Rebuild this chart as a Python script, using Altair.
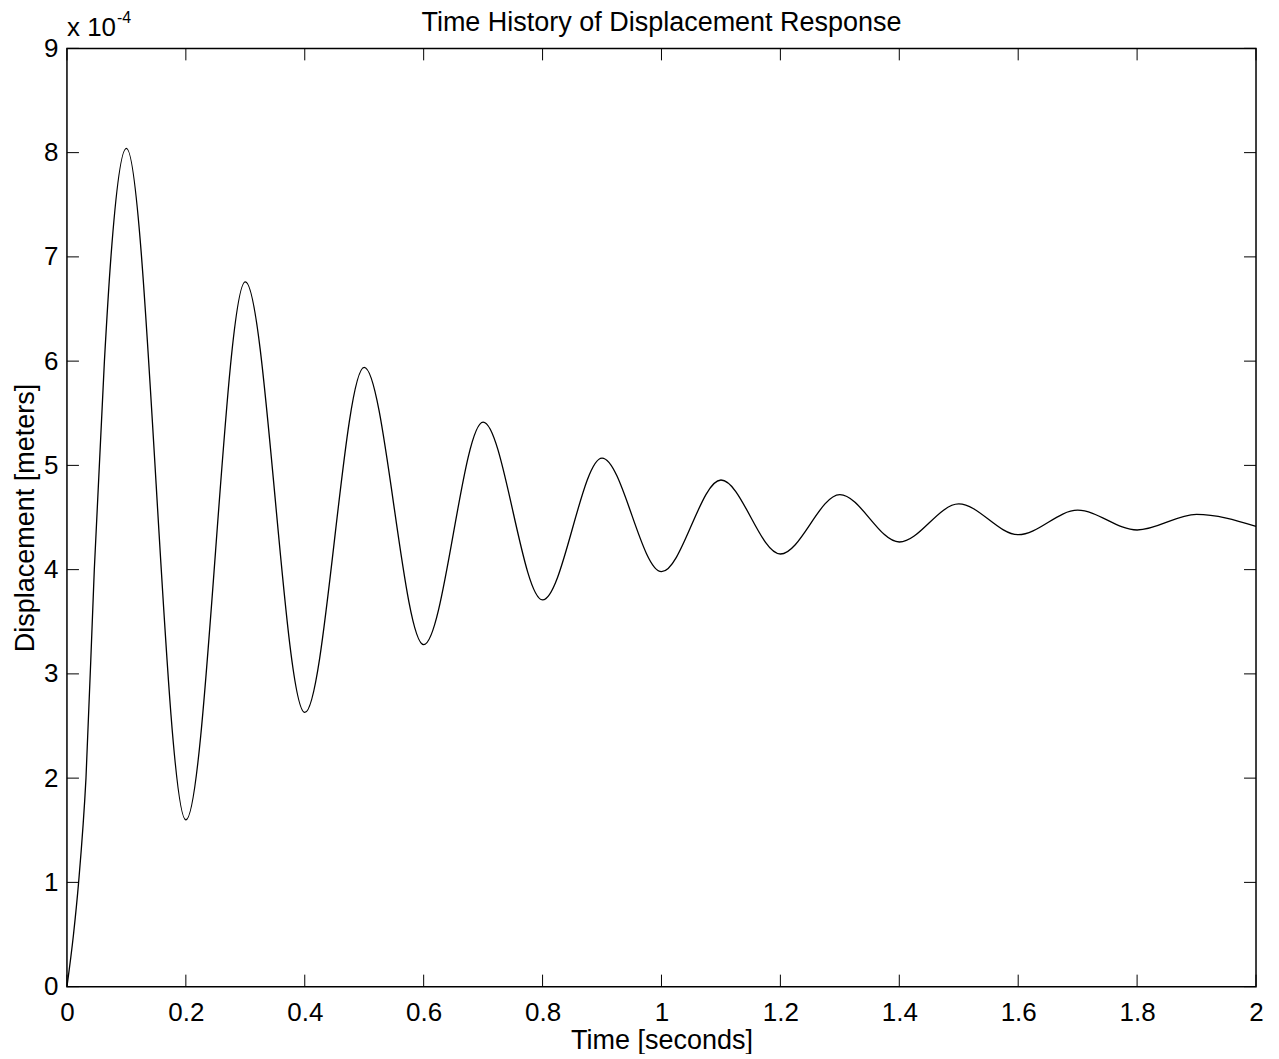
import altair as alt
import pandas as pd

# Values
time_s = [0.0, 0.011, 0.0196, 0.032, 0.046, 0.063, 0.074, 0.1,
          0.2, 0.3, 0.4, 0.5, 0.6, 0.7, 0.8, 0.9, 1.0, 1.1, 1.2,
          1.3, 1.4, 1.5, 1.6, 1.7, 1.8, 1.9, 2.0]
disp_e4 = [0.0, 0.5, 1.0, 2.0, 4.0, 6.0, 7.0, 8.04,
           1.60, 6.76, 2.63, 5.94, 3.28, 5.415, 3.71, 5.07, 3.98, 4.86, 4.15,
           4.72, 4.265, 4.63, 4.335, 4.57, 4.38, 4.53, 4.415]
disp_m = [v / 1e4 for v in disp_e4]

x_ticks = [0, 0.2, 0.4, 0.6, 0.8, 1, 1.2, 1.4, 1.6, 1.8, 2]
y_ticks_e4 = [0, 1, 2, 3, 4, 5, 6, 7, 8, 9]
y_ticks = [v / 1e4 for v in y_ticks_e4]

title_text = ["Time History of Displacement Response"]
multiplier_text = ["x 10"]
exponent_text = ["-4"]

W, H = 1190, 939
FONT = "Liberation Sans"
FS = 26      # tick labels
FT = 27      # titles
TL = 12      # tick length (px)

df = pd.DataFrame({"t": time_s, "d": disp_m})
xt = pd.DataFrame({"t": x_ticks})
yt = pd.DataFrame({"d": y_ticks})

xscale = alt.Scale(domain=[0, 2], nice=False, zero=False)
yscale = alt.Scale(domain=[0, 9 / 1e4], nice=False, zero=False)

line = alt.Chart(df).mark_line(color="black", strokeWidth=1.3, interpolate="monotone").encode(
    x=alt.X("t:Q", scale=xscale, title="Time [seconds]",
            axis=alt.Axis(values=x_ticks, ticks=False, tickSize=0, domain=False, grid=False,
                          labelPadding=13, labelFlush=False, labelOverlap=False, format="~g",
                          titleY=62, titleBaseline="alphabetic")),
    y=alt.Y("d:Q", scale=yscale, title="Displacement [meters]",
            axis=alt.Axis(values=y_ticks, ticks=False, tickSize=0, domain=False, grid=False,
                          labelPadding=9, labelFlush=False, labelOverlap=False,
                          labelExpr="'' + round(datum.value * 10000)",
                          titleX=-33, titleY=H / 2, titleAngle=270,
                          titleBaseline="alphabetic", titleAlign="center")),
)

tick_style = dict(color="black", strokeWidth=1)
bottom_ticks = alt.Chart(xt).mark_rule(**tick_style).encode(
    x=alt.X("t:Q", scale=xscale), y=alt.value(H), y2=alt.value(H - TL))
top_ticks = alt.Chart(xt).mark_rule(**tick_style).encode(
    x=alt.X("t:Q", scale=xscale), y=alt.value(0), y2=alt.value(TL))
left_ticks = alt.Chart(yt).mark_rule(**tick_style).encode(
    y=alt.Y("d:Q", scale=yscale), x=alt.value(0), x2=alt.value(TL))
right_ticks = alt.Chart(yt).mark_rule(**tick_style).encode(
    y=alt.Y("d:Q", scale=yscale), x=alt.value(W - TL), x2=alt.value(W))

title = alt.Chart(pd.DataFrame({"s": title_text})).mark_text(
    align="center", baseline="alphabetic", font=FONT, fontSize=FT, color="black").encode(
    text="s:N", x=alt.value(W / 2), y=alt.value(-17))
mult = alt.Chart(pd.DataFrame({"s": multiplier_text})).mark_text(
    align="left", baseline="alphabetic", font=FONT, fontSize=FS, color="black").encode(
    text="s:N", x=alt.value(0), y=alt.value(-12))
expo = alt.Chart(pd.DataFrame({"s": exponent_text})).mark_text(
    align="left", baseline="alphabetic", font=FONT, fontSize=16, color="black").encode(
    text="s:N", x=alt.value(50), y=alt.value(-25))

chart = alt.layer(line, bottom_ticks, top_ticks, left_ticks, right_ticks, title, mult, expo).properties(
    width=W, height=H,
    autosize=alt.AutoSizeParams(type="none"),
    padding={"left": 59, "top": 40, "right": 15, "bottom": 67},
).configure(font=FONT).configure_axis(
    labelFont=FONT, titleFont=FONT, labelFontSize=FS, titleFontSize=FT,
    labelColor="black", titleColor="black", titleFontWeight="normal",
).configure_view(stroke="black", strokeWidth=1.5)

chart.save("out.html", embed_options={"renderer": "svg", "actions": False})
